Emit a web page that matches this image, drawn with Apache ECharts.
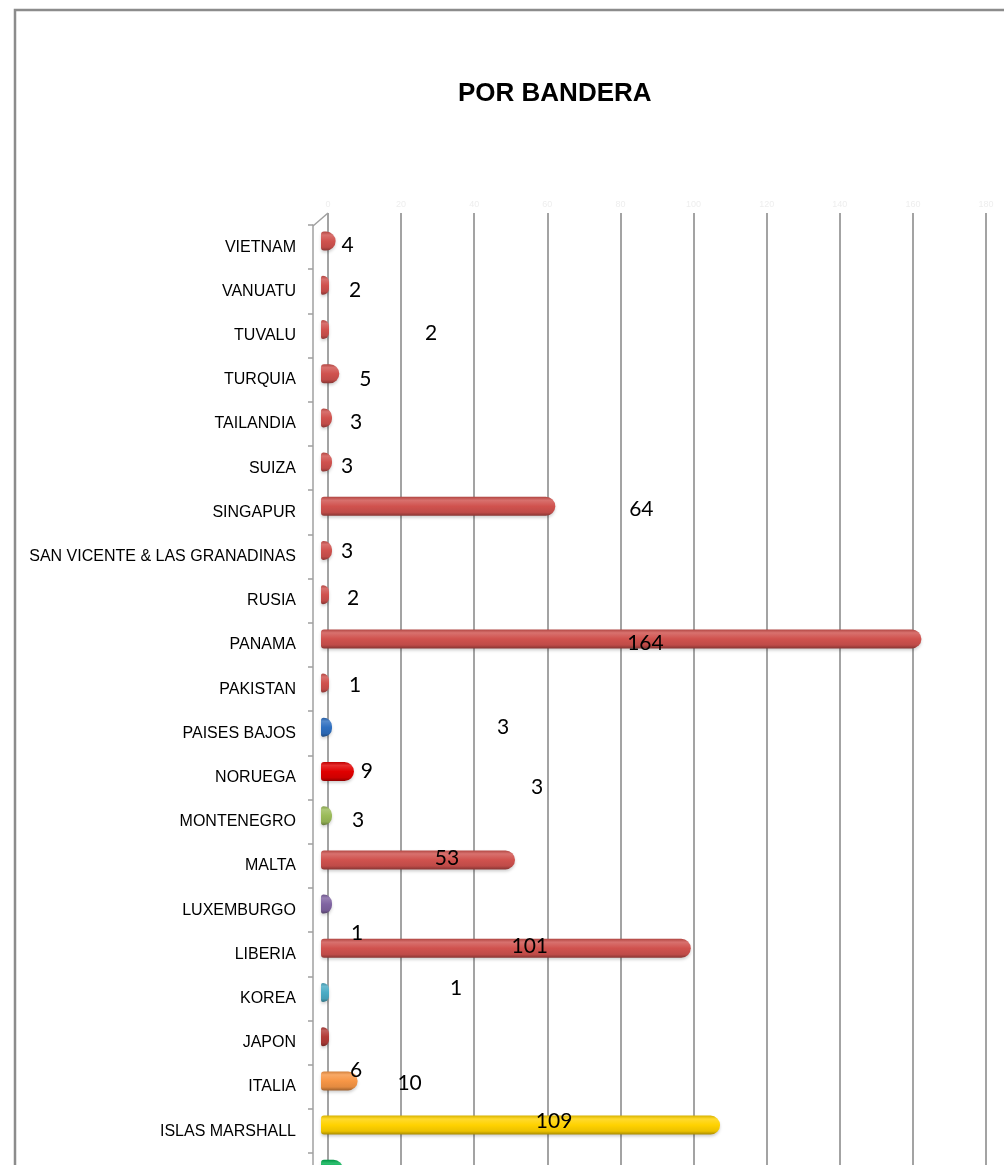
<!DOCTYPE html>
<html><head><meta charset="utf-8">
<script src="https://cdn.jsdelivr.net/npm/echarts@6/dist/echarts.min.js"></script>
<style>html,body{margin:0;padding:0;background:#fff;overflow:hidden}#c{width:1004px;height:1165px}</style>
</head><body><div id="c"></div>
<script>
// ---- data ----
const categories = ['VIETNAM','VANUATU','TUVALU','TURQUIA','TAILANDIA','SUIZA','SINGAPUR',
  'SAN VICENTE & LAS GRANADINAS','RUSIA','PANAMA','PAKISTAN','PAISES BAJOS','NORUEGA',
  'MONTENEGRO','MALTA','LUXEMBURGO','LIBERIA','KOREA','JAPON','ITALIA','ISLAS MARSHALL',''];
const values = [4,2,2,5,3,3,64,3,2,164,1,3,9,3,53,3,101,1,1,10,109,6];
const axisTickLabels = [0,20,40,60,80,100,120,140,160,180];

// ---- styles ----
const defaultColor = '#D0524E';
const colorByCategory = {
  'NORUEGA':'#E00000','PAISES BAJOS':'#2E6FC0','MONTENEGRO':'#9BBB59','LUXEMBURGO':'#8064A2',
  'KOREA':'#4BACC6','JAPON':'#B23C38','ITALIA':'#F79646','ISLAS MARSHALL':'#FFD200','':'#00B050'
};
// label shifts (dx, dy) from the bar end, in pixels (Excel labels were dragged around)
const labelShift = [[12,4],[26,5],[102,4],[26,6],[24,4],[15,4],[86,3],[15,1],[24,4],[-276,4],
  [26,2],[171,0],[13,0],[26,5],[-68,-2],[205,-117],[-161,-2],[127,-4],[28,-103],[52,2],[-166,-4],[13,-99]];

function shade(hex, f){
  const n = parseInt(hex.slice(1),16);
  let r=(n>>16)&255,g=(n>>8)&255,b=n&255;
  const t = f<0?0:255, p=Math.abs(f);
  r=Math.round((t-r)*p+r); g=Math.round((t-g)*p+g); b=Math.round((t-b)*p+b);
  return 'rgb('+r+','+g+','+b+')';
}
function grad(c){
  return new echarts.graphic.LinearGradient(0,0,0,1,[
    {offset:0,color:shade(c,-0.15)},
    {offset:0.18,color:shade(c,0.18)},
    {offset:0.5,color:c},
    {offset:0.82,color:shade(c,-0.08)},
    {offset:1,color:shade(c,-0.35)}
  ]);
}

const rowH = 44.2;
const plotH = rowH*categories.length;
const MAX = 180;

const chart = echarts.init(document.getElementById('c'), null, {renderer:'canvas'});
chart.setOption({
  animation:false,
  backgroundColor:'#fff',
  title:{text:'POR BANDERA', left:453, top:76,
    textStyle:{fontFamily:'Liberation Sans, Arial, sans-serif', fontWeight:'bold', fontSize:26, color:'#000'}},
  graphic:[
    {type:'polyline', shape:{points:[[15,1165],[15,10],[1004,10]]}, style:{stroke:'#8c8c8c', lineWidth:2.5, fill:null}, z:10},
    {type:'polyline', shape:{points:[[313,226],[328,213]]}, style:{stroke:'#a0a0a0', lineWidth:1.5, fill:null}, z:1}
  ],
  grid:[
    {left:313, top:225, width:660, height:plotH, outerBoundsMode:'none'},
    {left:328, top:213, width:658, height:plotH+20, outerBoundsMode:'none'},
    {left:321, top:219, width:659, height:plotH, outerBoundsMode:'none'}
  ],
  xAxis:[
    {gridIndex:0, type:'value', min:0, max:MAX, show:false},
    {gridIndex:1, type:'value', position:'top', min:0, max:MAX, interval:20,
      axisLine:{show:false}, axisTick:{show:false},
      axisLabel:{color:'#eeeeee', fontSize:9, margin:4, formatter:(v)=>String(axisTickLabels[Math.round(v/20)] ?? v)},
      splitLine:{show:true, lineStyle:{color:'#a3a3a3', width:2}}},
    {gridIndex:2, type:'value', min:0, max:MAX, show:false}
  ],
  yAxis:[
    {gridIndex:0, type:'category', inverse:true, data:categories,
      axisLine:{show:true, lineStyle:{color:'#a0a0a0', width:1.5}},
      axisTick:{show:true, length:5, inside:false, lineStyle:{color:'#a0a0a0', width:1.5}},
      axisLabel:{margin:17, color:'#000', fontSize:16, fontFamily:"'Liberation Sans', Arial, sans-serif"},
      splitLine:{show:false}},
    {gridIndex:1, type:'value', show:false},
    {gridIndex:2, type:'category', inverse:true, data:categories, show:false}
  ],
  series:[{
    type:'bar', xAxisIndex:2, yAxisIndex:2, barWidth:19, barMinHeight:8,
    data: values.map((v,i)=>({
      value:v,
      itemStyle:{color:grad(colorByCategory[categories[i]] || defaultColor), borderRadius:[3,9.5,9.5,3],
        shadowColor:'rgba(0,0,0,0.18)', shadowBlur:3, shadowOffsetY:2},
      label:{offset:labelShift[i]}
    })),
    label:{show:true, position:'right', distance:0, align:'center', verticalAlign:'middle',
      fontFamily:'Lato, Open Sans, sans-serif', fontSize:21, color:'#000'},
    z:3
  }]
});
</script></body></html>
